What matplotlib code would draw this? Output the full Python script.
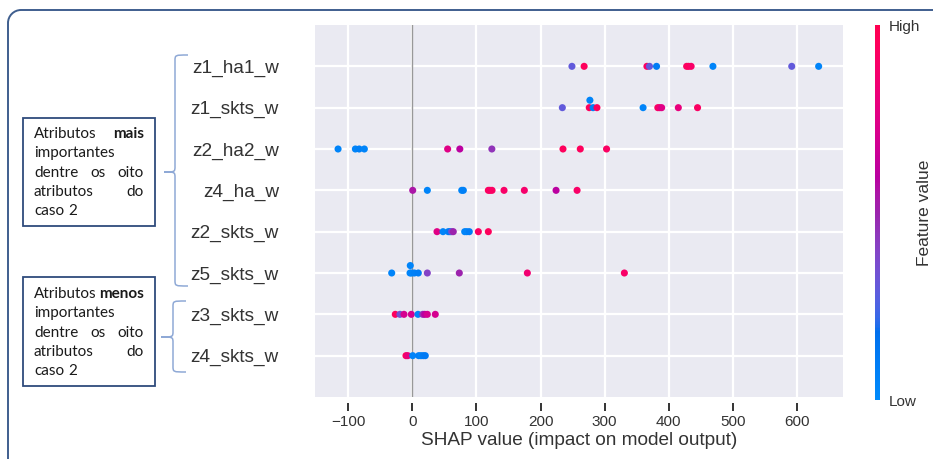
import numpy as np
import matplotlib
matplotlib.use("Agg")
import matplotlib.pyplot as plt
from matplotlib.colors import LinearSegmentedColormap, Normalize
from matplotlib.cm import ScalarMappable
from matplotlib.path import Path
from matplotlib.patches import PathPatch, Rectangle

# ---------------------------------------------------------------- data
features = ["z1_ha1_w", "z1_skts_w", "z2_ha2_w", "z4_ha_w",
            "z2_skts_w", "z5_skts_w", "z3_skts_w", "z4_skts_w"]

shap_z1_ha1_w = [249, 268, 366, 370, 381, 428, 431, 435, 469, 592, 634]
fval_z1_ha1_w = [0.30, 0.95, 0.92, 0.30, 0.10, 0.92, 0.95, 0.90, 0.05, 0.30, 0.05]

shap_z1_skts_w = [234, 276, 277, 282, 288, 360, 383, 386, 389, 415, 445]
fval_z1_skts_w = [0.30, 0.95, 0.05, 0.08, 0.95, 0.05, 0.92, 0.85, 0.75, 0.80, 0.92]

shap_z2_ha2_w = [-116, -89, -83, -75, 55, 74, 124, 235, 262, 303]
fval_z2_ha2_w = [0.05, 0.05, 0.08, 0.05, 0.75, 0.60, 0.45, 0.95, 0.95, 0.92]

shap_z4_ha_w = [0.5, 23.3, 77, 79.5, 118.5, 121, 124.3, 143, 174.7, 224.2, 257]
fval_z4_ha_w = [0.55, 0.05, 0.05, 0.08, 0.95, 0.90, 0.92, 0.90, 0.88, 0.60, 0.90]

shap_z2_skts_w = [38.4, 47.8, 56, 58.7, 61.3, 63.8, 81.6, 84.8, 88.8, 102.9, 118.5]
fval_z2_skts_w = [0.75, 0.05, 0.08, 0.12, 0.35, 0.50, 0.05, 0.05, 0.10, 0.92, 0.95]

shap_z5_skts_w = [-32.3, -3.7, -3.3, -1.1, 3, 9.2, 23.3, 73.2, 179.4, 330.8]
fval_z5_skts_w = [0.05, 0.05, 0.05, 0.05, 0.08, 0.10, 0.40, 0.50, 0.85, 0.90]

shap_z3_skts_w = [-26.7, -19.4, -13.1, -1.7, 8.7, 16.1, 19.2, 23.3, 35.7]
fval_z3_skts_w = [0.95, 0.35, 0.70, 0.70, 0.05, 0.45, 0.60, 0.70, 0.70]

shap_z4_skts_w = [-10, -7.3, 0.5, 9.8, 13.4, 17, 20.1]
fval_z4_skts_w = [0.95, 0.80, 0.05, 0.08, 0.05, 0.10, 0.12]

shap_rows = [shap_z1_ha1_w, shap_z1_skts_w, shap_z2_ha2_w, shap_z4_ha_w,
             shap_z2_skts_w, shap_z5_skts_w, shap_z3_skts_w, shap_z4_skts_w]
fval_rows = [fval_z1_ha1_w, fval_z1_skts_w, fval_z2_ha2_w, fval_z4_ha_w,
             fval_z2_skts_w, fval_z5_skts_w, fval_z3_skts_w, fval_z4_skts_w]

xticks = [-100, 0, 100, 200, 300, 400, 500, 600]

box_mais = [[("Atributos", False), ("mais", True)],
            [("importantes", False)],
            [("dentre", False), ("os", False), ("oito", False)],
            [("atributos", False), ("do", False)],
            [("caso", False), ("2", False)]]
box_menos = [[("Atributos", False), ("menos", True)],
             [("importantes", False)],
             [("dentre", False), ("os", False), ("oito", False)],
             [("atributos", False), ("do", False)],
             [("caso", False), ("2", False)]]


# ---------------------------------------------------------------- colormap
def lch_to_rgb(l, c, h):
    a, b = c * np.cos(h), c * np.sin(h)
    fy = (l + 16) / 116
    fx, fz = fy + a / 500, fy - b / 200
    finv = lambda t: t ** 3 if t > 6 / 29 else 3 * (6 / 29) ** 2 * (t - 4 / 29)
    xyz = np.array([0.95047 * finv(fx), finv(fy), 1.08883 * finv(fz)])
    m = np.array([[3.2404542, -1.5371385, -0.4985314],
                  [-0.9692660, 1.8760108, 0.0415560],
                  [0.0556434, -0.2040259, 1.0572252]])
    lin = np.clip(m @ xyz, 0, None)
    rgb = np.where(lin > 0.0031308, 1.055 * lin ** (1 / 2.4) - 0.055, 12.92 * lin)
    return np.clip(rgb, 0, 1)


n = 100
l_vals = list(np.linspace(54, 40, n // 2)) + list(np.linspace(40, 54, n // 2))
c_vals = np.linspace(70, 90, n)
h_vals = np.linspace(4.6588, 0.35470565 + 2 * np.pi, n)
red_blue = LinearSegmentedColormap.from_list(
    "red_blue", [lch_to_rgb(l, c, h) for l, c, h in zip(l_vals, c_vals, h_vals)])


def swarm_offsets(vals, row_height=0.4, nbins=100):
    v = np.asarray(vals, float)
    quant = np.round(nbins * (v - v.min()) / (v.max() - v.min() + 1e-8))
    order = np.argsort(quant, kind="stable")
    ys = np.zeros(len(v))
    layer, last = 0, None
    for i in order:
        if quant[i] != last:
            layer = 0
        ys[i] = np.ceil(layer / 2) * ((layer % 2) * 2 - 1)
        layer += 1
        last = quant[i]
    return ys * 0.9 * (row_height / np.max(ys + 1))


# ---------------------------------------------------------------- figure
W, H = 933, 459
fig = plt.figure(figsize=(W / 100, H / 100), dpi=100)
fig.patch.set_facecolor("white")


def fx(x):
    return x / W


def fy(y):
    return 1 - y / H


ax = fig.add_axes([fx(315), fy(397), (843 - 315) / W, (397 - 25) / H])
ax.set_facecolor("#EAEAF2")
for s in ax.spines.values():
    s.set_visible(False)
ax.spines["bottom"].set_position(("outward", 4))
ax.set_axisbelow(True)
ax.grid(True, color="white", lw=1.6)

nf = len(features)
for i, (vals, fv) in enumerate(zip(shap_rows, fval_rows)):
    pos = nf - 1 - i
    ys = pos + swarm_offsets(vals)
    ax.scatter(vals, ys, c=fv, cmap=red_blue, vmin=0, vmax=1, s=26,
               linewidths=0, zorder=3)

ax.axvline(0, color="#999999", lw=1, zorder=2)
ax.set_xlim(-152, 672)
ax.set_ylim(-1, nf)
ax.set_xticks(xticks)
ax.set_xticklabels([f"{t}".replace("-", "\u2212") for t in xticks])
ax.set_yticks(range(nf))
ax.set_yticklabels(features[::-1])

chart_font = "Liberation Sans"
ax.tick_params(axis="x", direction="out", length=6, width=1.4, color="#333333",
               labelsize=11, labelcolor="#333333", pad=3)
ax.tick_params(axis="y", length=0, labelsize=13.7, labelcolor="#333333", pad=26)
for lab in ax.get_xticklabels() + ax.get_yticklabels():
    lab.set_family(chart_font)
ax.set_xlabel("SHAP value (impact on model output)", fontsize=13.7,
              family=chart_font, color="#333333", labelpad=2)

# colour bar
cax = fig.add_axes([fx(875), fy(400), 5 / W, 375 / H])
cb = fig.colorbar(ScalarMappable(norm=Normalize(0, 1), cmap=red_blue), cax=cax)
cb.outline.set_visible(False)
cb.set_ticks([0, 1])
cb.set_ticklabels(["Low", "High"])
cb.ax.tick_params(length=0, labelsize=11, pad=6, labelcolor="#333333")
for lab in cb.ax.get_yticklabels():
    lab.set_family(chart_font)
cb.set_label("Feature value", size=12.5, family=chart_font, color="#333333",
             labelpad=-2)

# ---------------------------------------------------------------- annotations
frame_col = "#3F5E8E"
r = 13
frame = Path([(fx(945), fy(10)), (fx(8 + r), fy(10)),
              (fx(8 + r * 0.45), fy(10)), (fx(8), fy(10 + r * 0.45)), (fx(8), fy(10 + r)),
              (fx(8), fy(470))],
             [Path.MOVETO, Path.LINETO, Path.CURVE4, Path.CURVE4, Path.CURVE4, Path.LINETO])
fig.add_artist(PathPatch(frame, transform=fig.transFigure, fill=False,
                         edgecolor=frame_col, lw=1.4, clip_on=False))


def brace(x_spine, x_hook, x_tip, y_top, y_mid, y_bot, rr=6):
    pts = [(x_hook, y_top), (x_spine, y_top), (x_spine, y_top), (x_spine, y_top + rr),
           (x_spine, y_mid - rr), (x_spine, y_mid), (x_spine, y_mid), (x_tip, y_mid),
           (x_spine, y_mid), (x_spine, y_mid), (x_spine, y_mid + rr),
           (x_spine, y_bot - rr), (x_spine, y_bot), (x_spine, y_bot), (x_hook, y_bot)]
    codes = [Path.MOVETO, Path.CURVE4, Path.CURVE4, Path.CURVE4,
             Path.LINETO, Path.CURVE4, Path.CURVE4, Path.CURVE4,
             Path.CURVE4, Path.CURVE4, Path.CURVE4,
             Path.LINETO, Path.CURVE4, Path.CURVE4, Path.CURVE4]
    p = Path([(fx(x), fy(y)) for x, y in pts], codes)
    fig.add_artist(PathPatch(p, transform=fig.transFigure, fill=False,
                             edgecolor="#8FA9D6", lw=1.1, clip_on=False))


brace(175, 188, 164, 55, 172, 286)
brace(173, 186, 161, 301, 337, 372)

renderer = fig.canvas.get_renderer()
box_font = "Lato"
box_size = 11


def text_box(lines, x0, y0, x1, y1, first_base, step=19.3, tx0=34, tx1=144):
    fig.add_artist(Rectangle((fx(x0), fy(y1)), (x1 - x0) / W, (y1 - y0) / H,
                             transform=fig.transFigure, facecolor="white",
                             edgecolor="#2F4B7C", lw=1.3))
    space = 0.26 * box_size * 100 / 72
    for k, words in enumerate(lines):
        base = first_base + k * step
        texts = [fig.text(0, 0, w, fontsize=box_size, family=box_font,
                          fontweight="bold" if b else "normal", color="#1A1A1A",
                          ha="left", va="baseline") for w, b in words]
        widths = [t.get_window_extent(renderer).width for t in texts]
        last = k == len(lines) - 1
        if len(words) > 1 and not last:
            gap = (tx1 - tx0 - sum(widths)) / (len(words) - 1)
        else:
            gap = space
        x = tx0
        for t, wd in zip(texts, widths):
            t.set_position((fx(x), fy(base)))
            x += wd + gap


text_box(box_mais, 23, 118, 155, 226, 138)
text_box(box_menos, 23, 277, 155, 386, 298)

fig.savefig("out.png", dpi=100)
